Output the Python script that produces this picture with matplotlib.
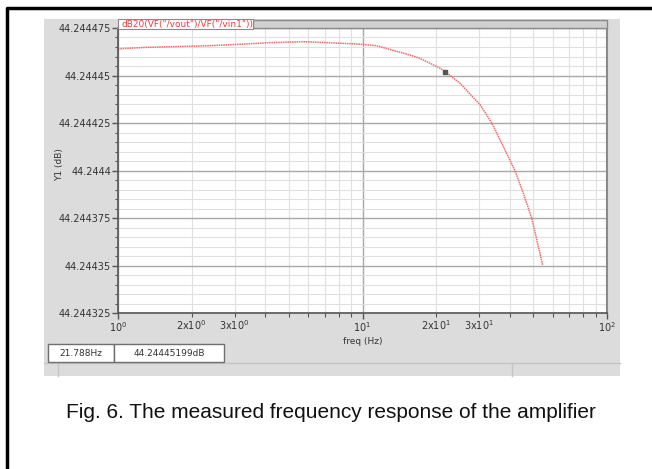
import numpy as np
import matplotlib
matplotlib.use("Agg")
import matplotlib.pyplot as plt
from matplotlib.patches import Rectangle
from matplotlib.lines import Line2D
from matplotlib.ticker import FixedLocator, FixedFormatter

freq = [1.0, 1.29, 2.38, 3.36, 4.19, 5.72, 7.16, 9.47, 11.4, 15.6, 17.2,
        20.8, 21.788, 25.05, 30.3, 33.8, 37.7, 42.0, 45.5, 49.2, 54.6]
gain_db = [44.244464, 44.2444648, 44.2444657, 44.2444666, 44.2444673,
           44.2444678, 44.2444673, 44.2444666, 44.2444657, 44.2444608,
           44.244459, 44.2444538, 44.24445199, 44.2444459, 44.2444345,
           44.244425, 44.2444125, 44.2444, 44.244388, 44.244375, 44.24435]
cursor_f = 21.788
cursor_db = 44.24445199

yticks = [44.244325, 44.24435, 44.244375, 44.2444, 44.244425, 44.24445, 44.244475]
ytick_labels = ['44.244325', '44.24435', '44.244375', '44.2444', '44.244425',
                '44.24445', '44.244475']
xdecades = [1, 10, 100]
xdecade_labels = [r'$10^0$', r'$10^1$', r'$10^2$']
xminor = [2, 3, 4, 5, 6, 7, 8, 9, 20, 30, 40, 50, 60, 70, 80, 90]
xminor_labels = [r'$2\mathrm{x}10^0$', r'$3\mathrm{x}10^0$', '', '', '', '', '', '',
                 r'$2\mathrm{x}10^1$', r'$3\mathrm{x}10^1$', '', '', '', '', '', '']
trace_name = 'dB20(VF("/vout")/VF("/vin1"))'
caption = "Fig. 6. The measured frequency response of the amplifier"

W, H = 652, 469
fig = plt.figure(figsize=(W / 100, H / 100), dpi=100)
fig.patch.set_facecolor('white')


def px(x0, y0, x1, y1):
    # pixel box (top-left origin) -> figure fraction rect
    return [x0 / W, 1 - y1 / H, (x1 - x0) / W, (y1 - y0) / H]


def frect(x0, y0, x1, y1, z=2, **kw):
    l, b, w, h = px(x0, y0, x1, y1)
    fig.patches.append(Rectangle((l, b), w, h, transform=fig.transFigure,
                                 zorder=z, **kw))


def fline(xs, ys, **kw):
    fig.lines.append(Line2D([x / W for x in xs], [1 - y / H for y in ys],
                            transform=fig.transFigure, **kw))


# outer frame (left and top only visible)
fline([7, 7, 652], [469, 8, 8], color='black', lw=2.5)

# gray tool window, behind the axes
frect(44, 19, 620, 376, z=-5, facecolor='#dcdcdc', edgecolor='none')
fline([44, 620], [363, 363], color='#c4c4c4', lw=1)
fline([58, 58], [363, 376], color='#c4c4c4', lw=1)
fline([512, 512], [363, 376], color='#c4c4c4', lw=1)

# status boxes
frect(48, 344, 114, 362, facecolor='white', edgecolor='#707070', lw=1)
frect(114, 344, 224, 362, facecolor='white', edgecolor='#707070', lw=1)
fig.text(81 / W, 1 - 353 / H, "21.788Hz", fontsize=6.5, color='#333333',
         ha='center', va='center', zorder=3)
fig.text(169 / W, 1 - 353 / H, "44.24445199dB", fontsize=6.5, color='#333333',
         ha='center', va='center', zorder=3)

ax = fig.add_axes(px(118, 28, 607, 313))
ax.set_facecolor('white')
ax.set_xscale('log')
ax.set_xlim(1, 100)
ax.set_ylim(44.244325, 44.244475)

ax.plot(freq, gain_db, linestyle=(0, (1, 0.5)), color='#f26b6b', lw=1.1)
ax.plot([cursor_f], [cursor_db], marker='s', ms=3.5, color='#555555',
        linestyle='none')

ax.xaxis.set_major_locator(FixedLocator(xdecades))
ax.xaxis.set_major_formatter(FixedFormatter(xdecade_labels))
ax.xaxis.set_minor_locator(FixedLocator(xminor))
ax.xaxis.set_minor_formatter(FixedFormatter(xminor_labels))
ax.yaxis.set_major_locator(FixedLocator(yticks))
ax.yaxis.set_major_formatter(FixedFormatter(ytick_labels))
ax.yaxis.set_minor_locator(FixedLocator(
    [44.244325 + 0.000005 * i for i in range(31) if i % 5]))

ax.grid(True, which='major', color='#a8a8a8', lw=1)
ax.grid(True, which='minor', color='#e0e0e0', lw=0.8)
ax.set_axisbelow(True)

for s in ['left', 'bottom']:
    ax.spines[s].set_color('#555555')
    ax.spines[s].set_linewidth(1.2)
for s in ['top', 'right']:
    ax.spines[s].set_color('#8a8a8a')
    ax.spines[s].set_linewidth(1.5)

ax.tick_params(which='major', length=4, width=1, color='#555555',
               labelsize=7, labelcolor='#333333', pad=1)
ax.tick_params(axis='y', which='minor', length=2, width=0.8, color='#555555')
ax.tick_params(axis='x', which='minor', length=3, width=0.8, color='#555555',
               labelsize=7, labelcolor='#333333', pad=1)

ax.set_xlabel("freq (Hz)", fontsize=6.5, color='#333333', labelpad=2)
ax.set_ylabel("Y1 (dB)", fontsize=6.5, color='#333333', labelpad=0)
ax.yaxis.set_label_coords(-0.11, 0.52)

# trace tab at top of the plot
frect(253, 20, 607, 28, facecolor='#d0d0d0', edgecolor='#8a8a8a', lw=1)
frect(118, 19, 253, 29, facecolor='white', edgecolor='#8a8a8a', lw=0.8)
fig.text(121 / W, 1 - 24 / H, trace_name, fontsize=6.5, color='#f03c3c',
         ha='left', va='center', zorder=3)

fig.text(331 / W, 1 - 412 / H, caption, fontsize=15, family='Liberation Sans',
         color='#111111', ha='center', va='center')

fig.savefig('out.png', dpi=100)
